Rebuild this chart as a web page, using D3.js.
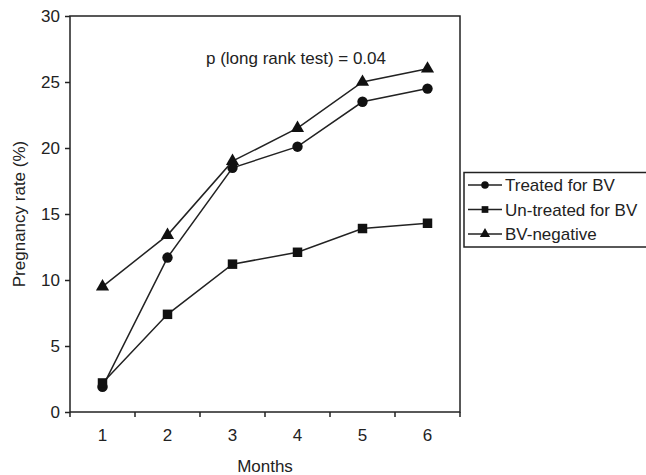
<!DOCTYPE html>
<html>
<head>
<meta charset="utf-8">
<script src="https://cdn.jsdelivr.net/npm/d3@7"></script>
<style>
  body { margin: 0; background: #fff; }
  text { font-family: "Liberation Sans", Arial, sans-serif; fill: #222; }
</style>
</head>
<body>
<div id="chart"></div>
<script>
var months = [1, 2, 3, 4, 5, 6];
var treated = [1.9, 11.7, 18.5, 20.1, 23.5, 24.5];
var untreated = [2.2, 7.4, 11.2, 12.1, 13.9, 14.3];
var bvNegative = [9.5, 13.4, 19.0, 21.5, 25.0, 26.0];
var seriesNames = ['Treated for BV', 'Un-treated for BV', 'BV-negative'];
var seriesShapes = ['circle', 'square', 'triangle'];
var yTicks = [0, 5, 10, 15, 20, 25, 30];

var width = 646, height = 475;
// plot box (window.top is reserved, so use own names)
var plotL = 70, plotR = 460, plotT = 16, plotB = 412;
var fs = '17px';

var svg = d3.select('#chart').append('svg')
    .attr('width', width)
    .attr('height', height);

var x = d3.scaleBand().domain(months).range([plotL, plotR]);
var y = d3.scaleLinear().domain([0, 30]).range([plotB, plotT]);

// frame
svg.append('rect')
    .attr('x', plotL).attr('y', plotT)
    .attr('width', plotR - plotL).attr('height', plotB - plotT)
    .style('fill', 'none').style('stroke', '#222').style('stroke-width', 1.5);

// x axis: ticks on band edges
var xEdges = months.map(function (m) { return x(m); }).concat([plotR]);
svg.append('g').selectAll('line')
    .data(xEdges).enter().append('line')
    .attr('x1', function (d) { return d; }).attr('x2', function (d) { return d; })
    .attr('y1', plotB).attr('y2', plotB + 5)
    .style('stroke', '#222').style('stroke-width', 1.5);

svg.append('g').selectAll('text')
    .data(months).enter().append('text')
    .attr('x', function (d) { return x(d) + x.bandwidth() / 2; })
    .attr('y', 441)
    .attr('text-anchor', 'middle')
    .attr('font-size', fs)
    .text(function (d) { return d; });

// y axis
var yAxis = d3.axisLeft(y).tickValues(yTicks).tickSize(5).tickPadding(5);
var yg = svg.append('g').attr('transform', 'translate(' + plotL + ',0)').call(yAxis);
yg.select('.domain').remove();
yg.selectAll('line').style('stroke', '#222').style('stroke-width', 1.5);
yg.selectAll('text').attr('font-size', fs).style('font-family', '"Liberation Sans", Arial, sans-serif').attr('fill', '#222');

svg.append('text')
    .attr('transform', 'translate(25,' + ((plotT + plotB) / 2) + ') rotate(-90)')
    .attr('text-anchor', 'middle')
    .attr('font-size', fs)
    .text('Pregnancy rate (%)');

svg.append('text')
    .attr('x', (plotL + plotR) / 2)
    .attr('y', 472)
    .attr('text-anchor', 'middle')
    .attr('font-size', fs)
    .text('Months');

svg.append('text')
    .attr('x', 296)
    .attr('y', 64)
    .attr('text-anchor', 'middle')
    .attr('font-size', fs)
    .text('p (long rank test) = 0.04');

function symbolFor(shape) {
    if (shape === 'circle') return d3.symbol().type(d3.symbolCircle).size(85)();
    if (shape === 'square') return d3.symbol().type(d3.symbolSquare).size(90)();
    return d3.symbol().type(d3.symbolTriangle).size(75)();
}

var allSeries = [treated, untreated, bvNegative];
var line = d3.line()
    .x(function (d, i) { return x(months[i]) + x.bandwidth() / 2; })
    .y(function (d) { return y(d); });

allSeries.forEach(function (vals, s) {
    var g = svg.append('g');
    g.append('path')
        .attr('d', line(vals))
        .style('fill', 'none').style('stroke', '#222').style('stroke-width', 1.5);
    g.selectAll('path.pt')
        .data(vals).enter().append('path')
        .attr('class', 'pt')
        .attr('transform', function (d, i) {
            return 'translate(' + (x(months[i]) + x.bandwidth() / 2) + ',' + y(d) + ')';
        })
        .attr('d', symbolFor(seriesShapes[s]))
        .style('fill', '#111');
});

// legend
var lg = svg.append('g');
lg.append('rect')
    .attr('x', 464).attr('y', 172.5)
    .attr('width', 190).attr('height', 74.5)
    .style('fill', '#fff').style('stroke', '#222').style('stroke-width', 1.5);

seriesNames.forEach(function (name, i) {
    var yy = 185 + i * 24.5;
    lg.append('line')
        .attr('x1', 468).attr('x2', 502)
        .attr('y1', yy).attr('y2', yy)
        .style('stroke', '#222').style('stroke-width', 1.5);
    lg.append('path')
        .attr('transform', 'translate(485,' + yy + ')')
        .attr('d', d3.symbol().type([d3.symbolCircle, d3.symbolSquare, d3.symbolTriangle][i]).size(45)())
        .style('fill', '#111');
    lg.append('text')
        .attr('x', 505).attr('y', yy + 6)
        .attr('font-size', fs)
        .text(name);
});
</script>
</body>
</html>
